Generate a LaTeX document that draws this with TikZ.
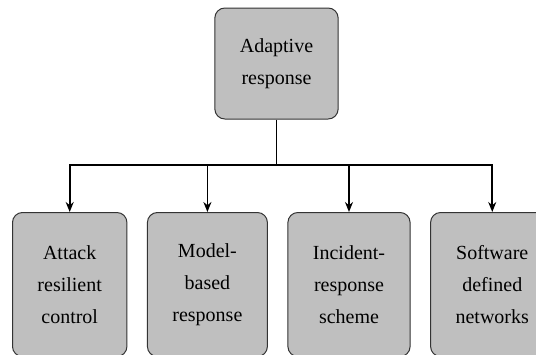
\documentclass[tikz,border=0pt]{standalone}
\usepackage{fontspec}
\setmainfont{Liberation Serif}
\usetikzlibrary{positioning,arrows.meta}
\tikzset{
  >={Stealth[length=5pt,width=4pt]},
  box/.style  ={draw=black!80, line width=0.5pt, fill=gray!50,
                rounded corners=5pt, align=center, inner xsep=12.5pt,
                font=\fontsize{10}{16}\selectfont},
  wire/.style ={line width=0.8pt},
}

\begin{document}
\begin{tikzpicture}
  \useasboundingbox (0,0) rectangle (268pt,-177pt);
  \clip (0,0) rectangle (268pt,-177pt);

  % root
  \node[box, minimum height=55.5pt] (adapt) at (138.25pt,-31.75pt)
    {Adaptive\\response};

  % leaves
  \node[box, minimum height=72pt, anchor=north west] (resil) at (6pt,-106pt)
    {Attack\\resilient\\control};
  \node[box, minimum height=72pt, right=9.75pt of resil] (model)
    {Model-\\based\\response};
  \node[box, minimum height=72pt, right=9.75pt of model] (incid)
    {Incident-\\response\\scheme};
  \node[box, minimum height=72pt, right=9.75pt of incid] (sdn)
    {Software\\defined\\networks};

  % connectors
  \coordinate (split) at (adapt.south |- 0,-82.5pt);
  \draw[wire] (adapt) -- (split);
  \foreach \leaf in {resil,model,incid,sdn}
    \draw[wire,->] (split) -| (\leaf.north);
\end{tikzpicture}
\end{document}
